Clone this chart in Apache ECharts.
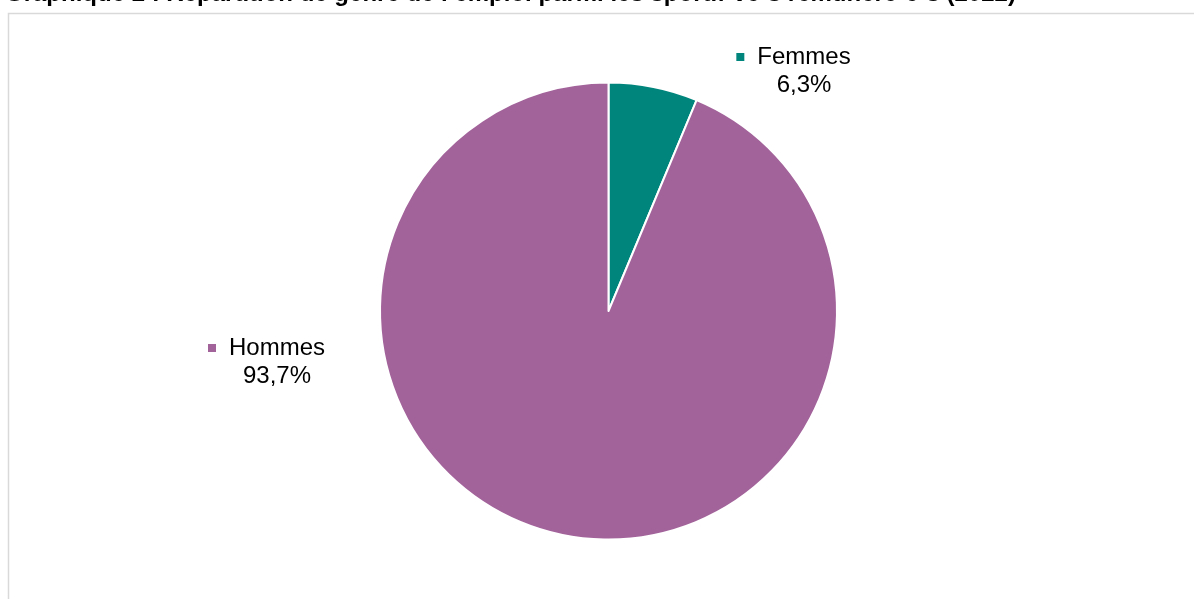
<!DOCTYPE html>
<html><head><meta charset="utf-8">
<script src="https://cdn.jsdelivr.net/npm/echarts@6/dist/echarts.min.js"></script>
<style>html,body{margin:0;padding:0;background:#fff}#c{width:1194px;height:599px}</style>
</head><body><div id="c"></div>
<script>
const titleText = "Graphique 2 : Répartition de genre de l’emploi parmi les sportif·ve·s rémunéré·e·s (2022)";
const categories = ["Femmes", "Hommes"];
const values = [6.3, 93.7];
const colors = ["#00857c", "#a2629a"];
const labelPos = [[804, 43], [277, 334]];

const chart = echarts.init(document.getElementById('c'));
chart.setOption({
  animation: false,
  title: {
    text: titleText, left: 0, top: -23,
    textStyle: {fontFamily: 'Liberation Sans, Arial', fontWeight: 'bold', fontSize: 24, color: '#000'}
  },
  graphic: [{
    type: 'rect', shape: {x: 8.5, y: 13.5, width: 1200, height: 600},
    style: {fill: 'none', stroke: '#d9d9d9', lineWidth: 1.5}, z: -1
  }],
  series: [{
    type: 'pie',
    center: [608.5, 311],
    radius: 228.5,
    startAngle: 90,
    clockwise: true,
    data: categories.map((c, i) => ({name: c, value: values[i], itemStyle: {color: colors[i]}})),
    itemStyle: {borderColor: '#fff', borderWidth: 2},
    label: {
      show: true,
      position: 'outside',
      formatter: p => '{m|}{g|}{t|' + p.name + '}{g2|}\n{t|' + p.value.toFixed(1).replace('.', ',') + '%}',
      rich: {
        m: {width: 8, height: 8, backgroundColor: 'inherit'},
        g: {width: 13},
        g2: {width: 21},
        t: {fontFamily: 'Liberation Sans, Arial', fontSize: 24, color: '#000', lineHeight: 28}
      },
      align: 'center',
      lineHeight: 28
    },
    labelLine: {show: false},
    labelLayout: p => ({x: labelPos[p.dataIndex][0], y: labelPos[p.dataIndex][1], align: 'center', verticalAlign: 'top'})
  }]
});
</script></body></html>
